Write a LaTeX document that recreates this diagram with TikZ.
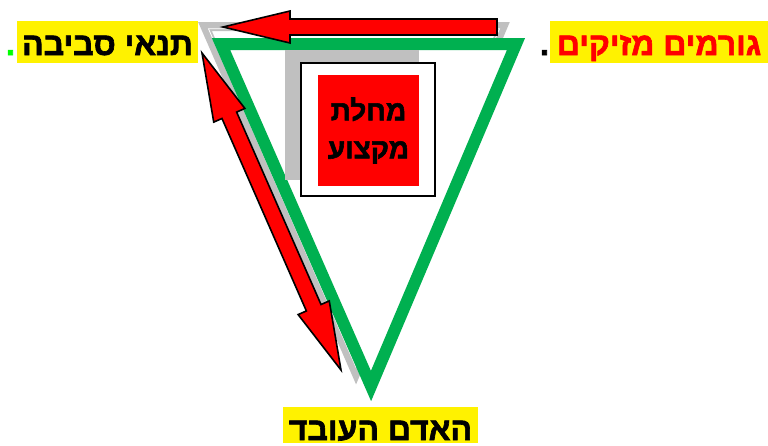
\documentclass[tikz,border=0pt]{standalone}
\usepackage{fontspec}
\setmainfont{Liberation Sans}
\newfontfamily\hebbold[Script=Hebrew, FakeBold=2]{Liberation Sans Bold}
\TeXXeTstate=1
\usetikzlibrary{calc}
\definecolor{pptgreen}{RGB}{0,176,80}
\definecolor{shadowgray}{RGB}{192,192,192}
\definecolor{limegreen}{RGB}{0,255,0}
\tikzset{
  labelbox/.style={fill=yellow, inner sep=0pt, text height=26pt, text depth=0pt,
    minimum height=42pt, font=\hebbold\fontsize{32}{36}\selectfont},
  dotlabel/.style={inner sep=0pt, anchor=base, font=\hebbold\fontsize{32}{36}\selectfont},
  blockarrow/.style={fill=red, draw=black, line width=1.6pt, line join=miter},
}
\begin{document}
\begin{tikzpicture}[x=1pt,y=-1pt]
\useasboundingbox (0,0) rectangle (768,445);
% shadow triangle
\draw[shadowgray, line width=9pt, line join=miter] (205,26.5) -- (503,26.5) -- (356,373) -- cycle;
\draw[white, line width=0.8pt, line join=miter] (208.5,28.8) -- (499.5,28.8) -- (356,367.2) -- cycle;
% green triangle (white filled)
\draw[pptgreen, fill=white, line width=12pt, line join=miter, miter limit=10] (221,44) -- (516,44) -- (371,386) -- cycle;
% central box
\fill[shadowgray] (285,50) rectangle (419,180);
\node[draw=black, line width=1.5pt, fill=white, minimum width=134pt, minimum height=133pt, inner sep=0pt] (box) at (368,129.5) {};
\node[fill=red, minimum width=101pt, minimum height=111pt, inner sep=0pt, align=center,
  font=\hebbold\fontsize{28}{38}\selectfont] (dept) at (368.5,130.5)
  {\beginR מחלת\endR\\\beginR מקצוע\endR};
% labels
\node[labelbox, minimum width=181pt] (env) at (107.5,42) {\beginR תנאי סביבה\endR};
\node[dotlabel, text=limegreen] (envdot) at (10.5,55) {.};
\node[labelbox, minimum width=218pt, text=red] (harm) at (659,42) {\beginR גורמים מזיקים\endR};
\node[dotlabel, text=black] (harmdot) at (544.5,55) {.};
\node[labelbox, minimum width=195pt, minimum height=36pt, text height=30pt] (worker) at (380.5,425) {\beginR האדם העובד\endR};
% top arrow (harmful factors -> environment)
\draw[blockarrow] (223,27) -- (290,11) -- (290,19) -- (497,19) -- (497,35) -- (290,35) -- (290,43) -- cycle;
% double arrow (environment <-> worker)
\coordinate (dA) at (202,53);
\coordinate (dB) at (341,370);
\coordinate (hA) at ($(dA)!68pt!(dB)$);
\coordinate (hB) at ($(dB)!68pt!(dA)$);
\draw[blockarrow] (dA) -- ($(hA)!17pt!90:(dB)$) -- ($(hA)!8pt!90:(dB)$)
  -- ($(hB)!8pt!-90:(dA)$) -- ($(hB)!17pt!-90:(dA)$) -- (dB)
  -- ($(hB)!17pt!90:(dA)$) -- ($(hB)!8pt!90:(dA)$)
  -- ($(hA)!8pt!-90:(dB)$) -- ($(hA)!17pt!-90:(dB)$) -- cycle;
\end{tikzpicture}
\end{document}
